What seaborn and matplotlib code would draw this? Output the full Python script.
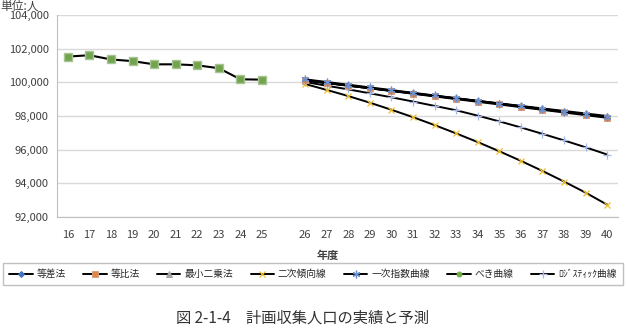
import numpy as np
import pandas as pd
import matplotlib
matplotlib.use("Agg")
import matplotlib.pyplot as plt
import seaborn as sns

# 年度のカテゴリ (実績と予測の間に空欄が1つ)
x_labels = ['16', '17', '18', '19', '20', '21', '22', '23', '24', '25', '',
            '26', '27', '28', '29', '30', '31', '32', '33', '34', '35',
            '36', '37', '38', '39', '40']

past_years = ['16', '17', '18', '19', '20', '21', '22', '23', '24', '25']
past_pop = [101530, 101610, 101360, 101260, 101070, 101070, 101010, 100840, 100180, 100160]

future_years = ['26', '27', '28', '29', '30', '31', '32', '33', '34', '35',
                '36', '37', '38', '39', '40']

tousa = [100140, 99983, 99826, 99669, 99512, 99355, 99198, 99041, 98884, 98727,
         98570, 98413, 98256, 98099, 97942]
touhi = [100130, 99968, 99806, 99645, 99484, 99323, 99163, 99003, 98843, 98684,
         98525, 98366, 98208, 98050, 97892]
saisho = [100100, 99950, 99800, 99650, 99500, 99350, 99200, 99050, 98900, 98750,
          98600, 98450, 98300, 98150, 98000]
niji = [99900, 99550, 99185, 98790, 98370, 97930, 97460, 96965, 96450, 95905,
        95335, 94735, 94105, 93445, 92730]
ichiji = [100180, 100020, 99860, 99700, 99540, 99380, 99220, 99060, 98900, 98740,
          98580, 98420, 98260, 98100, 97950]
beki = [100120, 99960, 99805, 99650, 99495, 99340, 99185, 99030, 98875, 98720,
        98565, 98410, 98255, 98100, 97945]
logistic = [100020, 99800, 99580, 99350, 99110, 98860, 98600, 98340, 98020, 97680,
            97320, 96940, 96550, 96140, 95710]

series_names = ['等差法', '等比法', '最小二乗法', '二次傾向線', '一次指数曲線', 'べき曲線', 'ﾛｼﾞｽﾃｨｯｸ曲線']
series_values = [tousa, touhi, saisho, niji, ichiji, beki, logistic]
marker_styles = [
    dict(marker='D', markersize=3, markerfacecolor='#4472C4', markeredgecolor='#4472C4'),
    dict(marker='s', markersize=4.5, markerfacecolor='#E0864A', markeredgecolor='#D9A080'),
    dict(marker='^', markersize=4, markerfacecolor='#A5A5A5', markeredgecolor='#A5A5A5'),
    dict(marker='x', markersize=4.5, markerfacecolor='#FFC000', markeredgecolor='#F0C030', markeredgewidth=0.9),
    dict(marker=(6, 2, 0), markersize=5.5, markerfacecolor='#5B84C8', markeredgecolor='#6A90D0', markeredgewidth=0.9),
    dict(marker='o', markersize=3.5, markerfacecolor='#70AD47', markeredgecolor='#70AD47'),
    dict(marker='+', markersize=5.5, markerfacecolor='#9EB0E0', markeredgecolor='#A8B8E4', markeredgewidth=0.9),
]
# 描画順 (等比法と一次指数曲線を上に)
z_order = [3, 5, 2, 3, 6, 1, 3]

sns.set_style("white")
plt.rcParams['font.family'] = ['Noto Sans CJK JP', 'DejaVu Sans']

pos = {lab: i for i, lab in enumerate(x_labels)}

fig = plt.figure(figsize=(6.27, 3.30), dpi=100)
ax = fig.add_axes([57 / 627, 113 / 330, 561 / 627, 202 / 330])

for name, vals, ms, z in zip(series_names, series_values, marker_styles, z_order):
    df = pd.DataFrame({'x': [pos[y] for y in future_years], 'pop': vals})
    sns.lineplot(data=df, x='x', y='pop', ax=ax, color='black', linewidth=1.4,
                 label=name, zorder=z, **ms)

df_past = pd.DataFrame({'x': [pos[y] for y in past_years], 'pop': past_pop})
sns.lineplot(data=df_past, x='x', y='pop', ax=ax, color='black', linewidth=1.5,
             marker='s', markersize=6, markerfacecolor='#72A34E',
             markeredgecolor='#A9C493', markeredgewidth=1, legend=False, zorder=4)

ax.set_xlim(-0.5, len(x_labels) - 0.5)
ax.set_ylim(92000, 104000)
ax.set_yticks(np.arange(92000, 104001, 2000))
ax.yaxis.set_major_formatter(matplotlib.ticker.StrMethodFormatter('{x:,.0f}'))
ax.set_xticks(range(len(x_labels)))
ax.set_xticklabels(x_labels)
ax.set_xticks(np.arange(-0.5, len(x_labels), 1), minor=True)
ax.tick_params(axis='x', which='major', length=0, pad=9, labelsize=8, labelcolor='#404040')
ax.tick_params(axis='x', which='minor', length=4, color='#bfbfbf', direction='out')
ax.tick_params(axis='y', length=4, color='#bfbfbf', labelsize=8, labelcolor='#404040', pad=2)
ax.grid(axis='y', color='#d9d9d9', linewidth=1)
ax.set_axisbelow(True)
for s in ['top', 'right']:
    ax.spines[s].set_visible(False)
for s in ['left', 'bottom']:
    ax.spines[s].set_color('#bfbfbf')
ax.set_xlabel('')
ax.set_ylabel('')
ax.get_legend().remove()

fig.text(328 / 627, 1 - 255 / 330, '年度', ha='center', va='center',
         fontsize=8, fontweight='bold', color='#404040')
fig.text(0.0, 1 - 6 / 330, '単位:人', ha='left', va='center', fontsize=8.5, color='#404040')

handles, labels = ax.get_legend_handles_labels()
leg = fig.legend(handles, labels, loc='center', ncol=7,
                 bbox_to_anchor=(313 / 627, 1 - 274 / 330), fontsize=7,
                 frameon=True, fancybox=False,
                 handlelength=2.4, columnspacing=1.8, handletextpad=0.4,
                 borderpad=0.6, borderaxespad=0)
leg.get_frame().set_edgecolor('#c0c0c0')
leg.get_frame().set_linewidth(1)
leg.get_frame().set_alpha(1)

fig.text(302 / 627, 1 - 318 / 330, '図 2-1-4\u3000計画収集人口の実績と予測', ha='center',
         va='center', fontsize=11, color='#333333')

fig.savefig('out.png', dpi=100)
